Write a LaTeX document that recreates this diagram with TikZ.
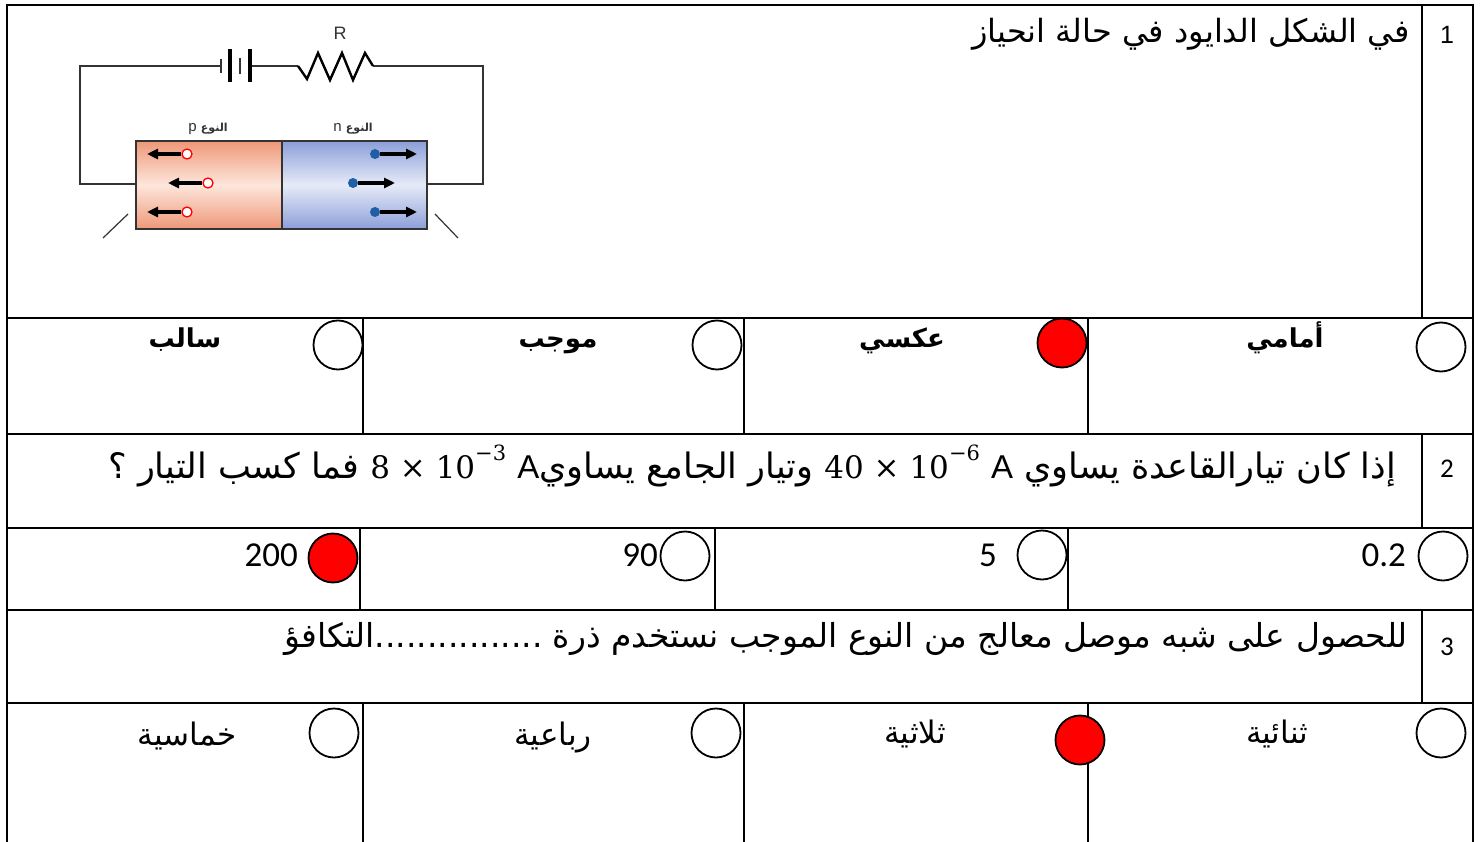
\documentclass[tikz,border=0pt]{standalone}
\usepackage{fontspec}
\setmainfont{Liberation Sans}
\newfontfamily\arabicfont[Script=Arabic]{DejaVu Sans}
\newfontfamily\calib{Carlito}
\newfontfamily\dserif{DejaVu Serif}
\newfontfamily\lsans{Liberation Sans}
\TeXXeTstate=1
\usetikzlibrary{arrows.meta}
\newcommand\mthx[1]{{\dserif\fontsize{31}{34}\selectfont #1}}
\newcommand\supx[1]{\raisebox{0.5em}{\dserif\fontsize{21}{22}\selectfont #1}}
\newcommand\latx[1]{\hbox{\lsans\fontsize{33}{36}\selectfont #1}}
\definecolor{pdark}{HTML}{EE9878}
\definecolor{plight}{HTML}{FDE6DC}
\definecolor{ndark}{HTML}{8C9ED8}
\definecolor{nlight}{HTML}{E6EBF8}
\definecolor{wire}{HTML}{333333}
\definecolor{eblue}{HTML}{1E5FA8}
\tikzset{
  tbl/.style={line width=2.2pt, line cap=rect},
  opt/.style={draw=black, line width=1.8pt, circle, minimum size=49pt, inner sep=0pt},
  sel/.style={opt, fill=red},
  qtext/.style={font=\arabicfont\fontsize{32}{36}\selectfont, inner sep=0pt},
  atext/.style={font=\arabicfont\bfseries\fontsize{26}{30}\selectfont, inner sep=0pt},
  btext/.style={font=\arabicfont\fontsize{31}{34}\selectfont, inner sep=0pt},
  numtext/.style={font=\calib\fontsize{35}{38}\selectfont, inner sep=0pt},
  qnum/.style={font=\fontsize{25}{28}\selectfont, inner sep=0pt},
  qnumc/.style={font=\calib\fontsize{27}{30}\selectfont, inner sep=0pt},
  cw/.style={draw=wire, line width=1.4pt},
  hole/.style={circle, draw=red, fill=white, line width=1.3pt, minimum size=10pt, inner sep=0pt},
  elec/.style={circle, fill=eblue, minimum size=10pt, inner sep=0pt},
  carr/.style={line width=3.4pt, -{Triangle[length=11pt,width=10pt]}},
}
\begin{document}
\begin{tikzpicture}[x=1pt,y=-1pt]
\useasboundingbox (0,0) rectangle (1482,842);
\fill[white] (0,0) rectangle (1482,842);

% ---------- table ----------
% Q1
\draw[tbl] (7,5) rectangle (1473,318);
\draw[tbl] (1422,5) -- (1422,318);
% answers 1
\draw[tbl] (7,318) rectangle (1473,434);
\foreach \x in {363,744,1088} \draw[tbl] (\x,318) -- (\x,434);
% Q2
\draw[tbl] (7,434) rectangle (1473,528);
\draw[tbl] (1422,434) -- (1422,528);
% answers 2
\draw[tbl] (7,528) rectangle (1473,610);
\foreach \x in {360,715,1068} \draw[tbl] (\x,528) -- (\x,610);
% Q3
\draw[tbl] (7,610) rectangle (1473,703);
\draw[tbl] (1422,610) -- (1422,703);
% answers 3
\draw[tbl] (7,842) -- (7,703) -- (1473,703) -- (1473,842);
\foreach \x in {363,744,1088} \draw[tbl] (\x,703) -- (\x,842);

% ---------- question numbers ----------
\node[qnum, anchor=base] (n1) at (1447,44) {1};
\node[qnumc, anchor=base] (n2) at (1447,477) {2};
\node[qnumc, anchor=base] (n3) at (1447,655) {3};

% ---------- questions ----------
\node[qtext, anchor=base east] (q1) at (1410,43) {\beginR في الشكل الدايود في حالة انحياز\endR};
\node[qtext, font=\arabicfont\fontsize{35}{38}\selectfont, anchor=base east] (q2) at (1396,478) {\beginR إذا كان تيارالقاعدة يساوي \beginL\mthx{40 × 10}\supx{−6} \latx{A}\endL{} وتيار الجامع يساوي\beginL\mthx{8 × 10}\supx{−3} \latx{A}\endL{} فما كسب التيار ؟\endR};
\node[qtext, font=\arabicfont\fontsize{33}{36}\selectfont, anchor=base east] (q3) at (1408,647) {\beginR للحصول على شبه موصل معالج من النوع الموجب نستخدم ذرة \hbox{................}التكافؤ\endR};

% ---------- answers row 1 ----------
\node[opt] (a1d) at (338,345) {};
\node[opt] (a1c) at (717,345) {};
\node[sel] (a1b) at (1062,343) {};
\node[opt] (a1a) at (1441,347) {};
\node[atext, anchor=base] (t1d) at (185,347) {\beginR سالب\endR};
\node[atext, anchor=base] (t1c) at (558,347) {\beginR موجب\endR};
\node[atext, anchor=base] (t1b) at (902,347) {\beginR عكسي\endR};
\node[atext, anchor=base] (t1a) at (1285,347) {\beginR أمامي\endR};

% ---------- answers row 2 ----------
\node[sel] (a2d) at (333,558) {};
\node[opt] (a2c) at (685,556) {};
\node[opt] (a2b) at (1042,555) {};
\node[opt] (a2a) at (1443,556) {};
\node[numtext, anchor=base east] (t2d) at (298,566) {200};
\node[numtext, anchor=base east] (t2c) at (658,566) {90};
\node[numtext, anchor=base east] (t2b) at (997,566) {5};
\node[numtext, anchor=base east] (t2a) at (1406,566) {0.2};

% ---------- answers row 3 ----------
\node[opt] (a3d) at (334,733) {};
\node[opt] (a3c) at (716,733) {};
\node[sel] (a3b) at (1080,740) {};
\node[opt] (a3a) at (1441,733) {};
\node[btext, anchor=base] (t3d) at (187,745) {\beginR خماسية\endR};
\node[btext, anchor=base] (t3c) at (553,745) {\beginR رباعية\endR};
\node[btext, anchor=base] (t3b) at (915,743) {\beginR ثلاثية\endR};
\node[btext, anchor=base] (t3a) at (1277,743) {\beginR ثنائية\endR};

% ---------- circuit picture ----------
% semiconductor block
\shade[top color=pdark, bottom color=pdark, middle color=plight] (136,141) rectangle (282,229);
\shade[top color=ndark, bottom color=ndark, middle color=nlight] (282,141) rectangle (427,229);
\draw[draw=wire, line width=1.3pt] (136,141) rectangle (427,229);
\draw[draw=wire, line width=1.1pt] (282,141) -- (282,229);
\coordinate (pl) at (136,184);
\coordinate (nr) at (427,184);
\coordinate (bl) at (221,66);
\coordinate (br) at (250,66);
\coordinate (rl) at (298,66);
\coordinate (rr) at (373,66);
% wires
\draw[cw] (pl) -- (80,184) -- (80,66) -- (bl);
\draw[cw] (nr) -- (483,184) -- (483,66) -- (rr);
\draw[cw] (br) -- (rl);
% battery
\draw[draw=wire, line width=1.3pt] (221,59) -- (221,73);
\draw[draw=black, line width=3.4pt] (230,49) -- (230,82);
\draw[draw=wire, line width=1.6pt] (240,58) -- (240,74);
\draw[draw=black, line width=3.4pt] (250,49) -- (250,82);
% resistor
\draw[draw=black, line width=2.4pt, line join=miter] (rl) -- (307,79) -- (318,53) -- (330,80) -- (342,53) -- (353,80) -- (365,53) -- (rr);
\node[font=\fontsize{18}{20}\selectfont, text=wire] (R) at (340,33) {R};
% labels
\node[font=\fontsize{15}{16}\selectfont, text=wire, inner sep=0pt, anchor=base] (lp) at (208,132) {p {\arabicfont\bfseries\fontsize{11}{12}\selectfont النوع}};
\node[font=\fontsize{15}{16}\selectfont, text=wire, inner sep=0pt, anchor=base] (ln) at (353,132) {n {\arabicfont\bfseries\fontsize{11}{12}\selectfont النوع}};
% holes
\node[hole] (h1) at (187,154) {};
\node[hole] (h2) at (208,183) {};
\node[hole] (h3) at (187,212) {};
\coordinate (h1e) at (147,154);
\coordinate (h2e) at (168,183);
\coordinate (h3e) at (147,212);
\draw[carr] (h1) -- (h1e);
\draw[carr] (h2) -- (h2e);
\draw[carr] (h3) -- (h3e);
% electrons
\node[elec] (e1) at (375,154) {};
\node[elec] (e2) at (353,183) {};
\node[elec] (e3) at (375,212) {};
\coordinate (e1e) at (417,154);
\coordinate (e2e) at (395,183);
\coordinate (e3e) at (417,212);
\draw[carr] (e1) -- (e1e);
\draw[carr] (e2) -- (e2e);
\draw[carr] (e3) -- (e3e);
% leads cut at bottom
\coordinate (dl1) at (128,214);
\coordinate (dl2) at (103,238);
\coordinate (dr1) at (435,214);
\coordinate (dr2) at (458,238);
\draw[draw=wire, line width=1.2pt] (dl1) -- (dl2);
\draw[draw=wire, line width=1.2pt] (dr1) -- (dr2);
\end{tikzpicture}
\end{document}
